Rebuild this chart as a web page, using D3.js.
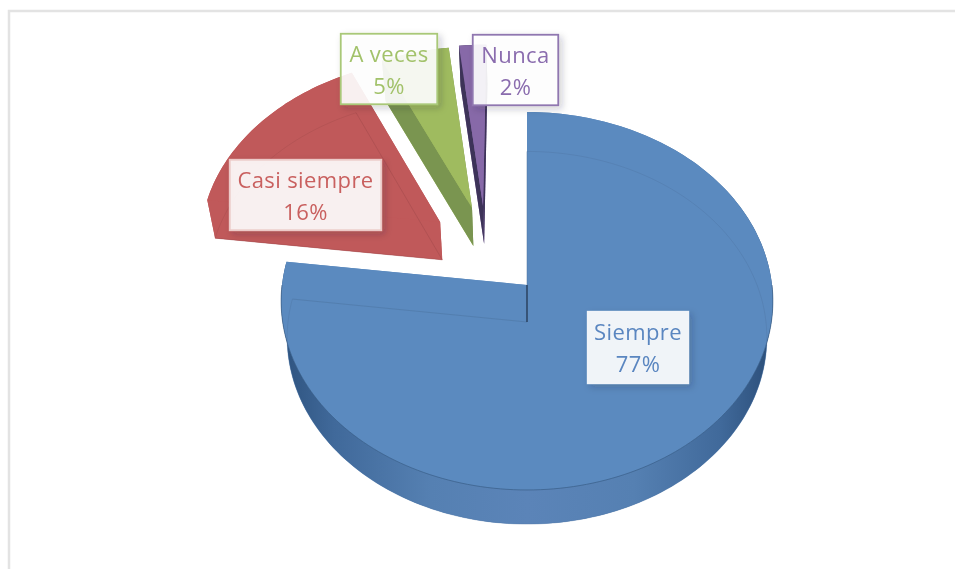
<!DOCTYPE html>
<html><head><meta charset="utf-8">
<script src="https://cdn.jsdelivr.net/npm/d3@7"></script>
<style>html,body{margin:0;padding:0;background:#fff;overflow:hidden}svg{display:block;filter:blur(.6px)}text{font-family:"Open Sans",sans-serif;font-size:22px;letter-spacing:.4px;text-anchor:middle}</style>
</head><body><svg width="955" height="569"></svg>
<script>
// Data
const categories = ["Siempre","Casi siempre","A veces","Nunca"];
const values = [77,16,5,2];

// Styles and layout (not data)
const colors = ["#5b8abf","#c0595a","#9fbb5f","#8769a8"];
const sideColors = ["#5b8abf","#c0595a","#7a9550","#3d3358"];
const textColors = ["#5a86c0","#c9605f","#a2c26a","#8a6cae"];
const borders = ["#f1f4f9","#ecc9c7","#a9c878","#9077b0"];
const explode = [[0,0],[-.365,.346],[-.2326,.425],[-.186,.437]];
const boxes = [[587,311,102,73],[229,159,153,72],[340,33,98,72],[472,34,87,72]];
const K = .0847;
const topPlane = {cx:527,cy:285,rx:245,s:187.6};
const lowPlane = {cx:527,cy:322,rx:239,s:185};

const svg = d3.select("svg");
const defs = svg.append("defs");
const f = defs.append("filter").attr("id","sh").attr("x","-20%").attr("y","-20%").attr("width","150%").attr("height","150%");
f.append("feDropShadow").attr("dx",3).attr("dy",3).attr("stdDeviation",3.5).attr("flood-color","#223").attr("flood-opacity",.22);
const g = defs.append("linearGradient").attr("id","wall").attr("gradientUnits","userSpaceOnUse")
  .attr("x1",285).attr("x2",770).attr("y1",0).attr("y2",0);
[[0,"#2f5480"],[.1,"#40699a"],[.3,"#5580b2"],[.5,"#5b84b8"],[.72,"#5580b2"],[.9,"#40699a"],[1,"#2c4f7a"]]
  .forEach(d=>g.append("stop").attr("offset",d[0]).attr("stop-color",d[1]));

// frame
svg.append("path").attr("d","M9 569V11H955").attr("fill","none").attr("stroke","#e3e3e3").attr("stroke-width",2.5);

const pie = d3.pie().sort(null).value(d=>d)(values);
const project = (pl,x,z)=>{const w=1+K*z;return [pl.cx+pl.rx*x/w, pl.cy-pl.s*z/w];};
const line = d3.line();
const arcPts = (pl,a0,a1,off)=>{
  const n=Math.max(8,Math.ceil((a1-a0)*40));
  return d3.range(n+1).map(i=>{const a=a0+(a1-a0)*i/n;return project(pl,Math.sin(a)+off[0],Math.cos(a)+off[1]);});
};
const apex=(pl,off)=>project(pl,off[0],off[1]);

// back-to-front: exploded slices first, then the main slice
[3,2,1,0].forEach(i=>{
  const p=pie[i],off=explode[i],a0=p.startAngle,a1=p.endAngle;
  const gr=svg.append("g");
  const top=arcPts(topPlane,a0,a1,off),low=arcPts(lowPlane,a0,a1,off);
  const tA=apex(topPlane,off),lA=apex(lowPlane,off);
  gr.append("path").attr("d",line([lA,...low])+"Z").attr("fill",colors[i]);
  gr.append("path").attr("d",line([...top,...low.slice().reverse()])+"Z")
    .attr("fill",i===0?"url(#wall)":sideColors[i]);
  gr.append("path").attr("d",line([tA,top[top.length-1],low[low.length-1],lA])+"Z").attr("fill",sideColors[i]);
  if(i>0) gr.append("path").attr("d",line([tA,top[0],low[0],lA])+"Z").attr("fill",sideColors[i]);
  gr.append("path").attr("d",line([tA,...top])+"Z").attr("fill",colors[i]);
  if(i<2){
    const edge=d3.color(colors[i]).darker(.5);
    gr.append("path").attr("d",line([low[low.length-1],lA,low[0]]))
      .attr("fill","none").attr("stroke",edge).attr("stroke-width",1).attr("opacity",.5);
    gr.append("path").attr("d",line(low)).attr("fill","none").attr("stroke",edge).attr("stroke-width",1).attr("opacity",.35);
  }
  if(i===0){
    // front rim between top face and wall
    const front=arcPts(topPlane,Math.PI/2,Math.PI*1.5,off);
    gr.append("path").attr("d",line(front)).attr("fill","none").attr("stroke","#35577f").attr("stroke-width",.9).attr("opacity",.7);
    gr.append("path").attr("d",line([tA,lA])).attr("stroke","#1d2c44").attr("stroke-width",1.1).attr("fill","none");
  }
});

// labels
categories.forEach((c,i)=>{
  const b=boxes[i],lg=svg.append("g");
  lg.append("rect").attr("x",b[0]+.75).attr("y",b[1]+.75).attr("width",b[2]-1.5).attr("height",b[3]-1.5)
    .attr("fill","#fff").attr("fill-opacity",.9).attr("stroke",borders[i]).attr("stroke-width",1.8)
    .attr("filter","url(#sh)");
  const cx=b[0]+b[2]/2;
  lg.append("text").attr("x",cx).attr("y",b[1]+29).attr("fill",textColors[i]).text(c);
  lg.append("text").attr("x",cx).attr("y",b[1]+61).attr("fill",textColors[i]).text(values[i]+"%");
});
</script></body></html>
